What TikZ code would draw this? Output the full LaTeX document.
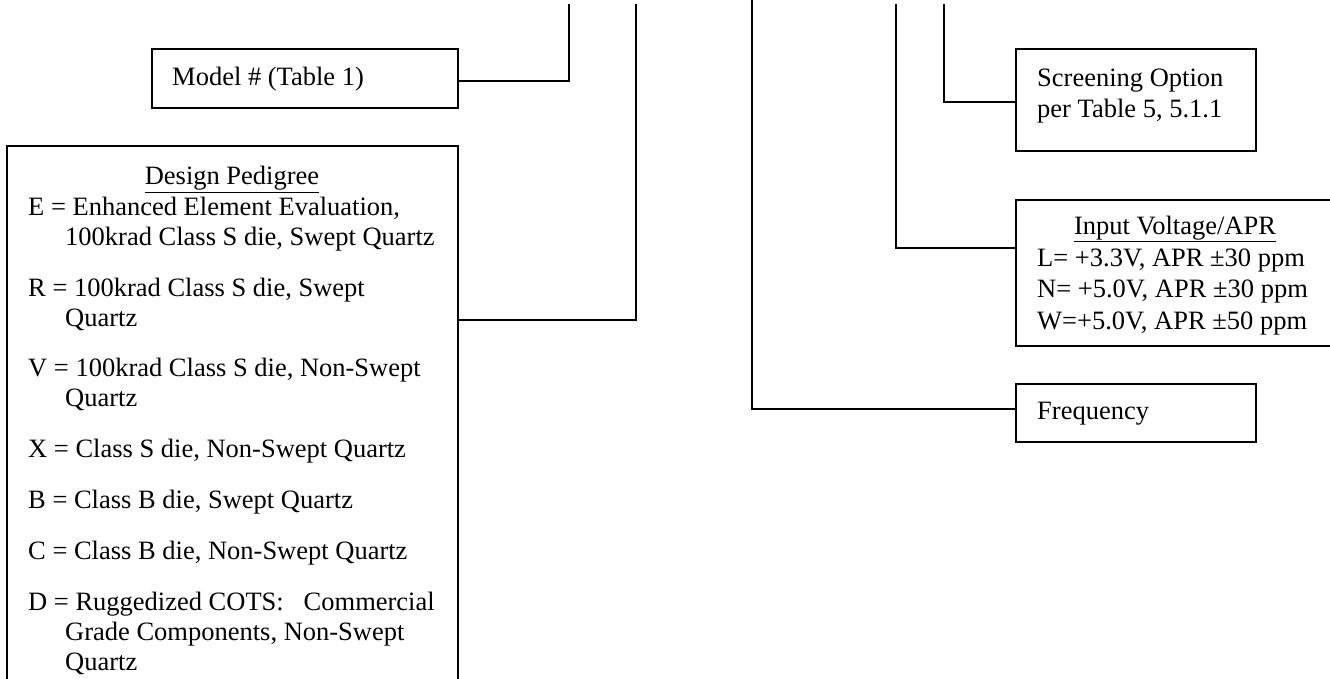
\documentclass[tikz,border=0pt]{standalone}
\usepackage{fontspec}
\setmainfont{Liberation Serif}
\usepackage{tikz}
\usetikzlibrary{positioning}

\tikzset{
  box/.style={draw, line width=1.6pt, anchor=north west, inner sep=0pt, outer sep=0pt},
  txt/.style={inner sep=0pt, align=left, font=\fontsize{26.5}{31.5}\selectfont},
  bus/.style={line width=1.6pt},
}

\begin{document}
\begin{tikzpicture}[x=1pt, y=-1pt]
  \useasboundingbox (0,0) rectangle (1330,679);

  \coordinate (t1) at (569,4);
  \coordinate (t2) at (636,4);
  \coordinate (t3) at (752,0);
  \coordinate (t4) at (896,4);
  \coordinate (t5) at (944,4);

  \node[box, minimum width=306pt, minimum height=59pt] (model) at (152,49) {};
  \node[txt, anchor=base west] at ([shift={(20,37)}]model.north west) {Model \# (Table 1)};

  \node[box, minimum width=451pt, minimum height=560pt] (design) at (7,146) {};
  \node[txt, anchor=base] at ([shift={(225,39)}]design.north west) {\underline{Design Pedigree}};
  \node[txt, anchor=north west, font=\fontsize{26.5}{30}\selectfont] (peds) at ([shift={(21,48)}]design.north west) {%
    \strut E = Enhanced Element Evaluation,\\
    \hspace*{37pt}100krad Class S die, Swept Quartz\\[20.8pt]
    R = 100krad Class S die, Swept\\
    \hspace*{37pt}Quartz\\[20.8pt]
    V = 100krad Class S die, Non-Swept\\
    \hspace*{37pt}Quartz\\[20.8pt]
    X = Class S die, Non-Swept Quartz\\[20.8pt]
    B = Class B die, Swept Quartz\\[20.8pt]
    C = Class B die, Non-Swept Quartz\\[20.8pt]
    D = Ruggedized COTS:\ \ \ Commercial\\
    \hspace*{37pt}Grade Components, Non-Swept\\
    \hspace*{37pt}Quartz};

  \node[box, minimum width=240pt, minimum height=102pt] (screen) at (1016,49) {};
  \node[txt, anchor=north west] at ([shift={(21,15)}]screen.north west) {\strut Screening Option\\per Table 5, 5.1.1};

  \node[box, minimum width=330pt, minimum height=146pt] (volt) at (1016,200) {};
  \node[txt, anchor=base] at ([shift={(159,34)}]volt.north west) {\underline{Input Voltage/APR}};
  \node[txt, anchor=north west] at ([shift={(21,44)}]volt.north west) {\strut L= +3.3V, APR ±30 ppm\\N= +5.0V, APR ±30 ppm\\W=+5.0V, APR ±50 ppm};

  \node[box, minimum width=240pt, minimum height=58pt] (freq) at (1016,384) {};
  \node[txt, anchor=base west] at ([shift={(21,35)}]freq.north west) {Frequency};

  \draw[bus] (model.north east) ++(0,32) -| (t1);
  \draw[bus] (design.north east) ++(0,174) -| (t2);
  \draw[bus] (freq.north west) ++(0,25) -| (t3);
  \draw[bus] (volt.north west) ++(0,48) -| (t4);
  \draw[bus] (screen.north west) ++(0,53) -| (t5);
\end{tikzpicture}
\end{document}
